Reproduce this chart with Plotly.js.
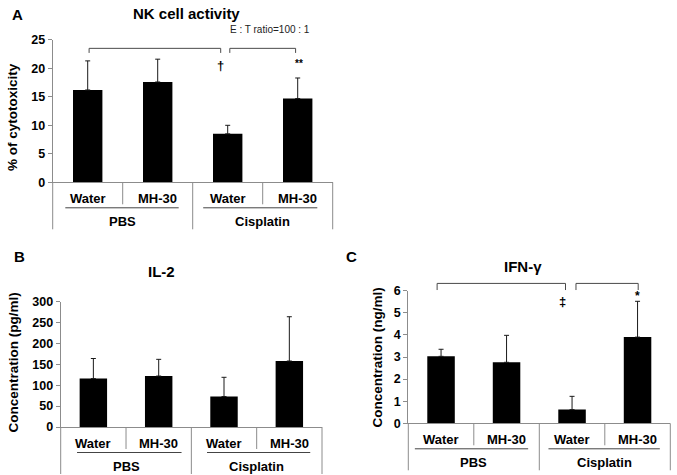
<!DOCTYPE html>
<html>
<head>
<meta charset="utf-8">
<script src="https://cdn.plot.ly/plotly-3.0.1.min.js"></script>
<style>html,body{margin:0;padding:0;background:#fff;}#chart{width:677px;height:475px;}</style>
</head>
<body>
<div id="chart"></div>
<script>
// ---- data ----
const groups = ['PBS', 'Cisplatin'];
const treatments = ['Water', 'MH-30', 'Water', 'MH-30'];
const categories = ['PBS / Water', 'PBS / MH-30', 'Cisplatin / Water', 'Cisplatin / MH-30'];

const nkMean = [16.2, 17.6, 8.5, 14.7];
const nkErr = [5.1, 4.0, 1.5, 3.6];
const il2Mean = [116, 122, 73, 158];
const il2Err = [48, 40, 46, 106];
const ifnMean = [3.03, 2.76, 0.62, 3.90];
const ifnErr = [0.32, 1.22, 0.60, 1.62];

const panelTitles = ['NK cell activity', 'IL-2', 'IFN-γ'];
const panelLetters = ['A', 'B', 'C'];
const yTitles = ['% of cytotoxicity', 'Concentration (pg/ml)', 'Concentration (ng/ml)'];
const ratioNote = 'E : T ratio=100 : 1';
const sigA = ['†', '**'];
const sigC = ['‡', '*'];

// ---- layout helpers ----
const W = 677, H = 475;
const FONT = 'Liberation Sans, Arial, Helvetica, sans-serif';
const AXIS_GRAY = '#8c8c8c';
const px = v => v / W;
const py = v => 1 - v / H;
const boldFont = (size, color) => ({family: FONT, size: size, weight: 700, color: color || '#000'});

const panels = [
  {mean: nkMean, err: nkErr, xid: 'x', yid: 'y', xd: [52.7, 332.7], yd: [182.3, 39.8], ymax: 25, dtick: 5,
   ul: [[-0.32, 1.30], [1.65, 3.28]], titleXY: [186.7, 13.5], letterXY: [17, 15], yTitleXY: [12, 117]},
  {mean: il2Mean, err: il2Err, xid: 'x2', yid: 'y2', xd: [60.7, 322], yd: [427, 301.7], ymax: 300, dtick: 50,
   ul: [[-0.25, 1.35], [1.74, 3.32]], titleXY: [161, 271.5], letterXY: [19, 256], yTitleXY: [13, 362.5]},
  {mean: ifnMean, err: ifnErr, xid: 'x3', yid: 'y3', xd: [408.3, 670.3], yd: [423.3, 290.7], ymax: 6, dtick: 1,
   ul: [[-0.40, 1.33], [1.64, 3.34]], titleXY: [523, 266.5], letterXY: [352, 256.5], yTitleXY: [377, 357.5]}
];

const data = [];
const layout = {
  width: W, height: H,
  margin: {l: 0, r: 0, t: 0, b: 0, pad: 0},
  paper_bgcolor: '#fff', plot_bgcolor: '#fff',
  showlegend: false,
  bargap: 0.58,
  font: {family: FONT, color: '#000'},
  shapes: [], annotations: []
};

const dom = i => (i + 0.5) / 4; // category index -> x-domain fraction

panels.forEach((p, k) => {
  const xName = p.xid === 'x' ? 'xaxis' : 'xaxis' + p.xid.slice(1);
  const yName = p.yid === 'y' ? 'yaxis' : 'yaxis' + p.yid.slice(1);
  data.push({
    type: 'bar', x: categories, y: p.mean, xaxis: p.xid, yaxis: p.yid,
    marker: {color: '#000', line: {width: 0}},
    error_y: {type: 'data', symmetric: false, array: p.err, arrayminus: p.err.map(() => 0),
              color: '#1a1a1a', thickness: 1, width: 2.5},
    hoverinfo: 'none'
  });
  layout[xName] = {
    domain: [px(p.xd[0]), px(p.xd[1])], anchor: p.yid, type: 'category',
    categoryorder: 'array', categoryarray: categories, range: [-0.5, 3.5],
    showline: true, linecolor: AXIS_GRAY, linewidth: 1, ticks: '', showticklabels: false,
    showgrid: false, zeroline: false, fixedrange: true
  };
  layout[yName] = {
    domain: [py(p.yd[0]), py(p.yd[1])], anchor: p.xid, range: [0, p.ymax], dtick: p.dtick,
    showline: true, linecolor: AXIS_GRAY, linewidth: 1, ticks: 'outside', ticklen: 4, tickcolor: AXIS_GRAY,
    showgrid: false, zeroline: false, fixedrange: true,
    tickfont: boldFont(12.5)
  };
  const xdRef = p.xid + ' domain', ydRef = p.yid + ' domain';
  // category-area boxes
  [0, 0.5, 1].forEach(xf => layout.shapes.push({type: 'line', xref: xdRef, yref: ydRef, ysizemode: 'pixel', yanchor: 0,
    x0: xf, x1: xf, y0: 0, y1: -47, line: {color: AXIS_GRAY, width: 1}}));
  [0.25, 0.75].forEach(xf => layout.shapes.push({type: 'line', xref: xdRef, yref: ydRef, ysizemode: 'pixel', yanchor: 0,
    x0: xf, x1: xf, y0: 0, y1: -22, line: {color: AXIS_GRAY, width: 1}}));
  p.ul.forEach(u => layout.shapes.push({type: 'line', xref: xdRef, yref: ydRef, ysizemode: 'pixel', yanchor: 0,
    x0: dom(u[0]), x1: dom(u[1]), y0: -25.5, y1: -25.5, line: {color: '#444', width: 1}}));
  // labels
  treatments.forEach((t, i) => layout.annotations.push({xref: p.xid, yref: ydRef, x: categories[i], y: 0,
    xanchor: 'center', yshift: -16, yanchor: 'middle', showarrow: false, text: t, font: boldFont(13)}));
  groups.forEach((g, i) => layout.annotations.push({xref: xdRef, yref: ydRef, x: 0.25 + 0.5 * i, y: 0,
    xanchor: 'center', yshift: -39, yanchor: 'middle', showarrow: false, text: g, font: boldFont(13)}));
  // titles
  layout.annotations.push({xref: 'paper', yref: 'paper', x: px(p.titleXY[0]), y: py(p.titleXY[1]), xanchor: 'center', yanchor: 'middle',
    showarrow: false, text: panelTitles[k], font: boldFont(15)});
  layout.annotations.push({xref: 'paper', yref: 'paper', x: px(p.letterXY[0]), y: py(p.letterXY[1]), xanchor: 'center', yanchor: 'middle',
    showarrow: false, text: panelLetters[k], font: boldFont(15)});
  layout.annotations.push({xref: 'paper', yref: 'paper', x: px(p.yTitleXY[0]), y: py(p.yTitleXY[1]), xanchor: 'center', yanchor: 'middle',
    textangle: -90, showarrow: false, text: yTitles[k], font: boldFont(13.5)});
});

// significance brackets
function bracket(p, x0, x1, top, low) {
  const xr = p.xid, yr = p.yid + ' domain';
  const t = top / p.ymax, l = low / p.ymax;
  layout.shapes.push({type: 'path', xref: xr, yref: yr,
    path: `M ${x0},${l} L ${x0},${t} L ${x1},${t} L ${x1},${l}`, line: {color: '#4a4a4a', width: 1}});
}
bracket(panels[0], 0.02, 1.90, 23.5, 22.7);
bracket(panels[0], 2.03, 2.97, 23.5, 22.7);
bracket(panels[2], -0.06, 1.90, 6.33, 6.03);
bracket(panels[2], 2.06, 3.01, 6.33, 6.03);

function sig(p, x, y, text, size) {
  layout.annotations.push({xref: p.xid, yref: p.yid, x: x, y: y, showarrow: false, text: text,
    xanchor: 'center', yanchor: 'middle', font: boldFont(size)});
}
sig(panels[0], 1.90, 20.5, sigA[0], 13);
sig(panels[0], 3.02, 20.9, sigA[1], 10);
sig(panels[2], 1.86, 5.5, sigC[0], 13);
sig(panels[2], 3.0, 5.75, sigC[1], 12);

layout.annotations.push({xref: 'paper', yref: 'paper', x: px(269.7), y: py(29.3), xanchor: 'center', yanchor: 'middle',
  showarrow: false, text: ratioNote, font: {family: FONT, size: 10, color: '#222'}});

Plotly.newPlot('chart', data, layout, {staticPlot: true, displayModeBar: false});
</script>
</body>
</html>
